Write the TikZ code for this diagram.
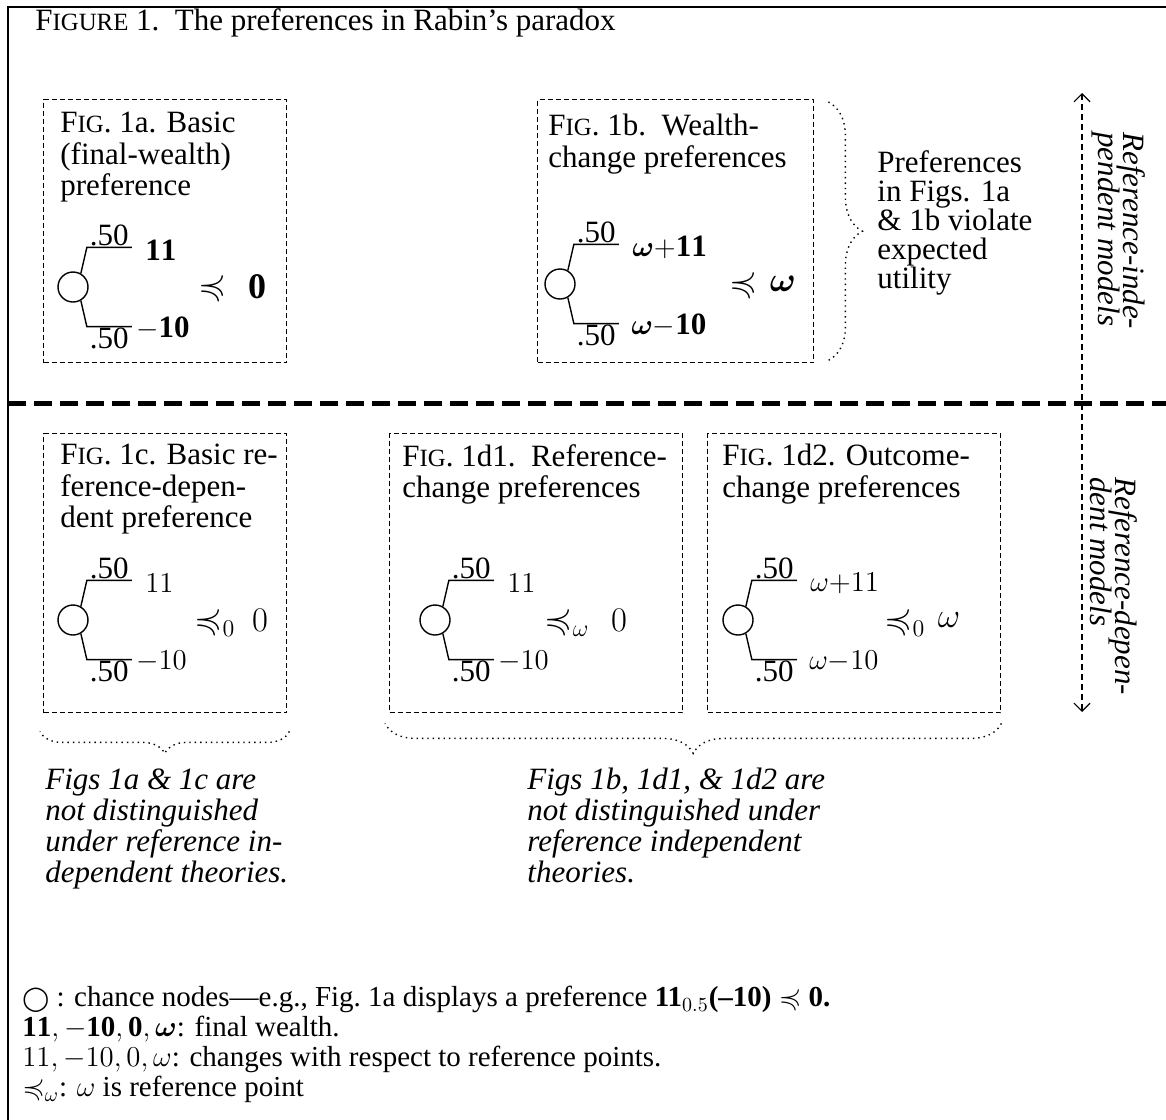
\documentclass[tikz,border=0pt]{standalone}
\usepackage{amsmath,amssymb}
\usepackage{fontspec}
\setmainfont{Liberation Serif}
\newfontfamily\shapesfont{DejaVu Sans}
\usetikzlibrary{arrows.meta,positioning,decorations.pathreplacing,calc}

\newcommand{\smcap}[1]{{\fontsize{12.4}{12}\selectfont #1}}
\newcommand{\setfs}[2]{\fontsize{#1}{#2}\selectfont\lineskiplimit=-50pt\relax}
\newcommand{\bw}{\boldsymbol{\omega}}

\tikzset{
  figbox/.style={draw,line width=0.7pt,dash pattern=on 2.5pt off 1.5pt,anchor=north west,inner sep=0pt},
  chance/.style={circle,draw,line width=0.7pt,minimum size=15pt,inner sep=0pt},
  branch/.style={line width=0.7pt},
  prob/.style={inner sep=0.5pt},
  prize/.style={anchor=west,inner sep=0pt},
  rel/.style={inner sep=0pt,font=\setfs{18}{18}},
  caption/.style={anchor=north west,align=left,inner sep=0pt},
  note/.style={caption,font=\setfs{15.5}{15.5}\itshape},
  sidelabel/.style={rotate=-90,anchor=west,align=left,inner sep=0pt,font=\setfs{15.5}{12.5}\itshape},
  curly/.style={decorate,decoration={brace,amplitude=#1},line width=0.7pt,dotted},
  divider/.style={line width=2.5pt,dash pattern=on 9pt off 4pt},
  sidearrow/.style={{Straight Barb[length=4pt,width=8pt]}-{Straight Barb[length=4pt,width=8pt]},line width=0.6pt,dash pattern=on 3pt off 2pt},
}

% #1 name, #2 centre, #3 upper prize, #4 lower prize, #5 gap before lower prize
\newcommand{\gamble}[5]{%
  \node[chance] (#1) at (#2) {};
  \draw[branch] (#1.60) -- ++(6,-26) coordinate (#1a) -- ++(45,0) coordinate (#1b)
    node[prob,midway,above] (#1p) {.50};
  \draw[branch] (#1.-60) -- ++(6,26) coordinate (#1c) -- ++(45,0) coordinate (#1d)
    node[prob,midway,below] (#1q) {.50};
  \node[prize] (#1hi) at ([xshift=6.5pt,yshift=-1.5pt]#1b) {$#3$};
  \node[prize] (#1lo) at ([xshift=#5,yshift=-1pt]#1d) {$#4$};
}

\begin{document}
\begin{tikzpicture}[x=0.5pt,y=-0.5pt,font=\setfs{15.5}{15.75}]
\useasboundingbox (0,0) rectangle (1166,1119);
% frame
\draw[line width=1pt] (8,1125) -- (8,7) -- (1172,7);
\node[anchor=base west,inner sep=0pt] (title) at (35,30)
  {F\smcap{IGURE} 1.\ \ The preferences in Rabin's paradox};

% reference-independent row
\node[figbox,minimum width=121.5pt,minimum height=131.5pt] (fig1a) at (43,99) {};
\node[caption] (cap1a) at (60,112) {F\smcap{IG}. 1a. Basic\\(final-wealth)\\preference};
\gamble{g1a}{73,287}{\mathbf{11}}{\mathbf{-10}}{2pt}
\node[rel] (r1a) at (212,287) {$\preccurlyeq$};
\node[rel] (v1a) at (257,287) {$\mathbf{0}$};

\node[figbox,minimum width=138pt,minimum height=131.5pt] (fig1b) at (537,99) {};
\node[caption] (cap1b) at (548,114) {F\smcap{IG}. 1b.\ \ Wealth-\\change preferences};
\gamble{g1b}{560,284}{\bw\mathbf{+11}}{\bw\mathbf{-10}}{6pt}
\node[rel] (r1b) at (743,284) {$\preccurlyeq$};
\node[rel] (v1b) at (783,284) {$\bw$};

\draw[curly=17pt] ([xshift=7pt,yshift=-1.5pt]fig1b.north east) -- ([xshift=7pt,yshift=1.5pt]fig1b.south east);
\node[caption,font=\setfs{15.5}{14.5}] (eu) at (877,150)
  {Preferences\\in Figs. 1a\\\& 1b violate\\expected\\utility};

% divider and side arrow
\coordinate (divL) at (8,403);
\coordinate (divR) at (1172,403);
\draw[divider] (divL) -- (divR);
\coordinate (arrtop) at (1082,93);
\coordinate (arrbot) at (1082,712);
\draw[sidearrow] (arrtop) -- (arrbot);
\node[sidelabel] (indep) at (1119,132) {Reference-inde-\\pendent models};
\node[sidelabel] (dep) at (1114,477) {Reference-depen-\\dent models};

% reference-dependent row
\node[figbox,minimum width=121.5pt,minimum height=139.5pt] (fig1c) at (43,433) {};
\node[caption] (cap1c) at (60,444) {F\smcap{IG}. 1c. Basic re-\\ference-depen-\\dent preference};
\gamble{g1c}{73,620}{11}{-10}{2pt}
\node[rel] (r1c) at (215,622) {$\preccurlyeq_0$};
\node[rel] (v1c) at (260,620) {$0$};

\node[figbox,minimum width=146.5pt,minimum height=139.5pt] (fig1d1) at (389,433) {};
\node[caption] (cap1d1) at (402,444) {F\smcap{IG}. 1d1.\ \ Reference-\\change preferences};
\gamble{g1d1}{435,620}{11}{-10}{2pt}
\node[rel] (r1d1) at (567,622) {$\preccurlyeq_\omega$};
\node[rel] (v1d1) at (619,620) {$0$};

\node[figbox,minimum width=146.5pt,minimum height=139.5pt] (fig1d2) at (707,433) {};
\node[caption] (cap1d2) at (722,444) {F\smcap{IG}. 1d2. Outcome-\\change preferences};
\gamble{g1d2}{738,620}{\omega{+}11}{\omega{-}10}{6pt}
\node[rel] (r1d2) at (905,622) {$\preccurlyeq_0$};
\node[rel] (v1d2) at (949,620) {$\omega$};

% braces and remarks
\draw[curly=11pt] ([xshift=1pt,yshift=-9pt]fig1c.south east) -- ([xshift=-1.5pt,yshift=-9pt]fig1c.south west);
\draw[curly=15pt] ([yshift=-5pt]fig1d2.south east) -- ([xshift=-2pt,yshift=-5pt]fig1d1.south west);
\node[note] (rem1) at (45,768) {Figs 1a \& 1c are\\not distinguished\\under reference in-\\dependent theories.};
\node[note] (rem2) at (527,768) {Figs 1b, 1d1, \& 1d2 are\\not distinguished under\\reference independent\\theories.};

% legend
\node[caption,font=\setfs{14.5}{15}] (legend) at (22,986)
  {{\shapesfont\fontsize{12}{12}\selectfont ◯} : chance nodes---e.g., Fig.~1a displays a preference \textbf{11}$_{0.5}$\textbf{(--10)} $\preccurlyeq$ \textbf{0.}\\
   $\mathbf{11}, \mathbf{-10}, \mathbf{0}, \bw$: final wealth.\\
   $11, -10, 0, \omega$: changes with respect to reference points.\\
   $\preccurlyeq_\omega$: $\omega$ is reference point};
\end{tikzpicture}
\end{document}
